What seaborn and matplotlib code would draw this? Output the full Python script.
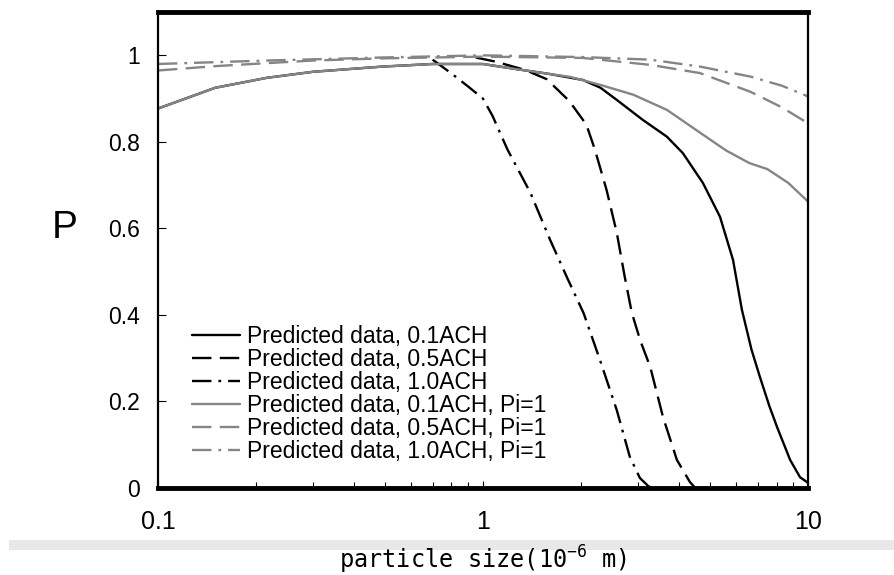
import numpy as np
import pandas as pd
import seaborn as sns
import matplotlib.pyplot as plt
from matplotlib.patches import Rectangle
from matplotlib.ticker import LogLocator, NullFormatter

# values (x = particle size in 1e-6 m, P = penetration)
x_01 = [0.1, 0.15, 0.216, 0.3, 0.49, 0.7, 1.0, 1.27, 1.6, 2.03, 2.3, 2.58, 3.1, 3.68,
        4.12, 4.75, 5.36, 5.88, 6.26, 6.7, 7.11, 7.6, 8.03, 8.81, 9.45, 10]
p_01 = [0.877, 0.925, 0.948, 0.962, 0.974, 0.980, 0.980, 0.968, 0.957, 0.943, 0.925,
        0.897, 0.851, 0.812, 0.774, 0.705, 0.627, 0.527, 0.412, 0.32, 0.257, 0.19,
        0.141, 0.065, 0.025, 0.012]

x_05 = [0.95, 1.1, 1.35, 1.57, 1.84, 2.08, 2.21, 2.40, 2.58, 2.73, 2.87, 3.05, 3.27,
        3.58, 3.95, 4.33, 4.5]
p_05 = [0.995, 0.985, 0.966, 0.945, 0.895, 0.84, 0.782, 0.689, 0.59, 0.488, 0.405,
        0.34, 0.28, 0.164, 0.065, 0.014, 0.0]

x_10 = [0.70, 0.8, 0.9, 1.0, 1.07, 1.19, 1.40, 1.61, 1.81, 2.04, 2.29, 2.58, 2.83,
        3.04, 3.22, 3.3]
p_10 = [0.99, 0.958, 0.928, 0.90, 0.86, 0.782, 0.682, 0.573, 0.488, 0.404, 0.296,
        0.18, 0.072, 0.023, 0.005, 0.0]

x_01_pi = [0.1, 0.15, 0.216, 0.3, 0.49, 0.7, 1.0, 1.27, 1.6, 1.86, 2.29, 2.9, 3.68,
           4.66, 5.6, 6.6, 7.5, 8.7, 10]
p_01_pi = [0.877, 0.925, 0.948, 0.962, 0.974, 0.980, 0.980, 0.968, 0.957, 0.950,
           0.932, 0.909, 0.874, 0.821, 0.78, 0.751, 0.737, 0.705, 0.662]

x_05_pi = [0.1, 0.15, 0.216, 0.3, 0.49, 1.0, 2.03, 3.27, 4.65, 6.64, 8.3, 10]
p_05_pi = [0.965, 0.975, 0.982, 0.988, 0.993, 0.997, 0.994, 0.978, 0.959, 0.916,
           0.88, 0.843]

x_10_pi = [0.1, 0.216, 0.49, 1.0, 2.03, 3.27, 4.65, 6.64, 8.3, 10]
p_10_pi = [0.98, 0.988, 0.995, 1.0, 0.996, 0.99, 0.974, 0.951, 0.93, 0.905]

labels = ["Predicted data, 0.1ACH", "Predicted data, 0.5ACH", "Predicted data, 1.0ACH",
          "Predicted data, 0.1ACH, Pi=1", "Predicted data, 0.5ACH, Pi=1",
          "Predicted data, 1.0ACH, Pi=1"]
xs = [x_01, x_05, x_10, x_01_pi, x_05_pi, x_10_pi]
ps = [p_01, p_05, p_10, p_01_pi, p_05_pi, p_10_pi]

df = pd.concat(
    [pd.DataFrame({"size": x, "P": p, "series": lab}) for x, p, lab in zip(xs, ps, labels)],
    ignore_index=True,
)

black, gray = "#000000", "#858585"
palette = dict(zip(labels, [black, black, black, gray, gray, gray]))
dash, dashdot = (14, 6), (14, 5, 2, 5)
dashes = dict(zip(labels, ["", dash, dashdot, "", dash, dashdot]))

sns.set_style("white")
plt.rcParams["font.family"] = ["Liberation Sans", "DejaVu Sans"]
plt.rcParams["text.color"] = "black"
plt.rcParams["axes.labelcolor"] = "black"
plt.rcParams["xtick.color"] = "black"
plt.rcParams["ytick.color"] = "black"
plt.rcParams["lines.scale_dashes"] = False
plt.rcParams["mathtext.fontset"] = "custom"
plt.rcParams["mathtext.rm"] = "DejaVu Sans Mono"
plt.rcParams["mathtext.default"] = "rm"

fig = plt.figure(figsize=(8.95, 5.75), dpi=100)
ax = fig.add_axes([0.1765, 0.1513, 0.7263, 0.8277])

# light gray band across the lower part of the figure
fig.add_artist(Rectangle((9 / 895, 1 - 550 / 575), 1, 10 / 575,
                         transform=fig.transFigure, facecolor="#e8e8e8",
                         edgecolor="none", zorder=0))

sns.lineplot(data=df, x="size", y="P", hue="series", style="series",
             hue_order=labels, style_order=labels, palette=palette, dashes=dashes,
             sort=False, estimator=None, lw=1.7, legend=False, ax=ax)

ax.set_xscale("log")
ax.set_xlim(0.1, 10)
ax.set_ylim(0, 1.1)
ax.set_xticks([0.1, 1, 10], labels=["0.1", "1", "10"])
ax.xaxis.set_minor_locator(LogLocator(base=10, subs=np.arange(2, 10)))
ax.xaxis.set_minor_formatter(NullFormatter())
ax.set_yticks([0, 0.2, 0.4, 0.6, 0.8, 1.0], labels=["0", "0.2", "0.4", "0.6", "0.8", "1"])

ax.tick_params(axis="x", which="both", direction="in", bottom=True, top=False,
               labelsize=18, pad=16, width=0.8)
ax.tick_params(axis="x", which="major", length=5)
ax.tick_params(axis="x", which="minor", length=4)
ax.tick_params(axis="y", direction="in", left=True, right=False, length=6,
               width=0.8, labelsize=16.5, pad=13)

for side in ["top", "bottom"]:
    ax.spines[side].set_linewidth(3.5)
    ax.spines[side].set_color("black")
for side in ["left", "right"]:
    ax.spines[side].set_linewidth(1.6)
    ax.spines[side].set_color("black")

ax.set_xlabel(r"particle size(10$^{-6}$ m)", family="DejaVu Sans Mono", fontsize=17,
              va="baseline")
ax.xaxis.set_label_coords(0.5, -0.170)
ax.set_ylabel("P", rotation=0, fontsize=28, va="center", ha="center")
ax.yaxis.set_label_coords(-0.143, 0.546)

ax.legend(handles=ax.lines, labels=labels, loc="upper left",
          bbox_to_anchor=(0.052, 0.342), frameon=False, fontsize=16.5,
          handlelength=2.1, handletextpad=0.3, labelspacing=0.0,
          borderpad=0, borderaxespad=0)

fig.savefig("out.png", dpi=100)
